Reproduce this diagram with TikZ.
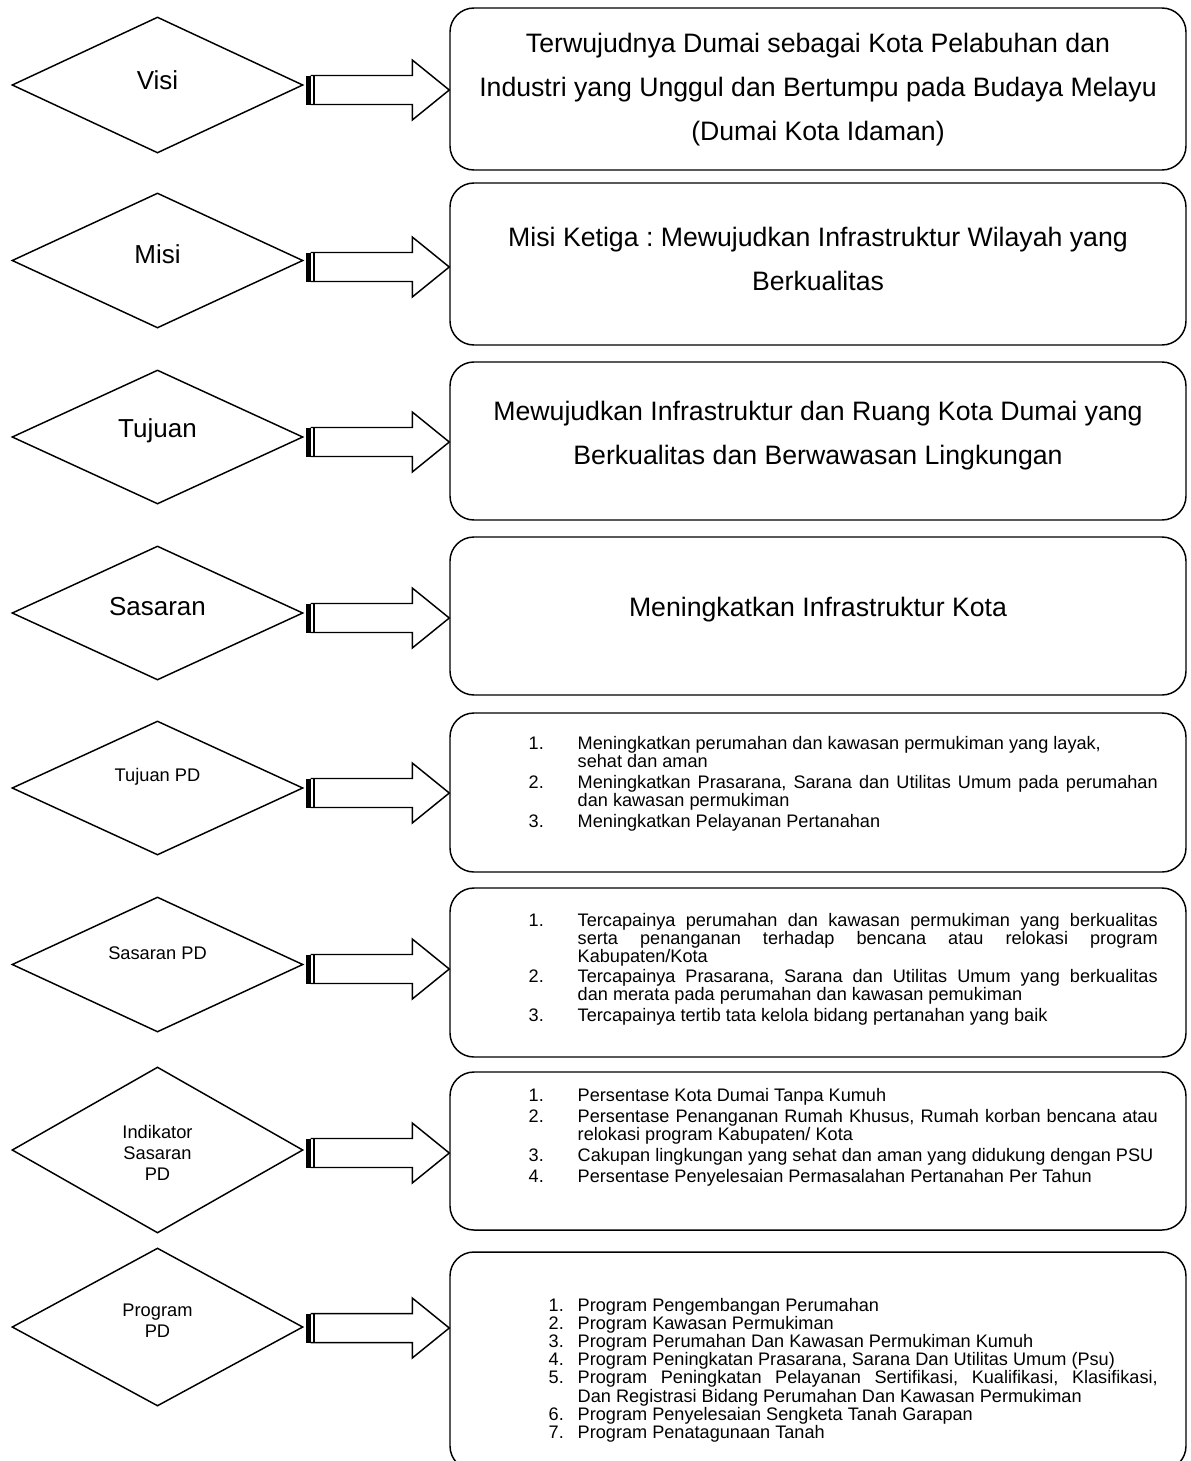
\documentclass[tikz,border=0pt]{standalone}
\usepackage{fontspec}
\setmainfont{Liberation Sans}
\usetikzlibrary{shapes.geometric,calc}

\frenchspacing
\hyphenpenalty=10000
\exhyphenpenalty=10000

\newlength\hangw
% one numbered entry of a list
\newcommand{\li}[2]{\hangindent=\hangw\hangafter=1 \makebox[\hangw][l]{#1}#2\par}

% block arrow with a double bar at its foot
\newcommand{\bararrow}[3]{%
    \coordinate (#1-s) at ($(#1.east)+(2,#3)$);
    \coordinate (#1-t) at (#2.west |- #1-s);
    \fill ($(#1-s)+(0,-14.5)$) rectangle ($(#1-s)+(5,14.5)$);
    \draw[line width=1.5pt] ($(#1-s)+(8.5,-14.5)$) -- ($(#1-s)+(8.5,14.5)$);
    \draw ($(#1-s)+(5,-14.5)$) -- ($(#1-t)+(-37,-14.5)$) -- ($(#1-t)+(-37,-30)$)
        -- (#1-t) -- ($(#1-t)+(-37,30)$) -- ($(#1-t)+(-37,14.5)$) -- ($(#1-s)+(5,14.5)$);
}

\begin{document}
\begin{tikzpicture}
[
    x=0.75pt, y=-0.75pt,
    line width=1.1pt,
    choice/.style={draw, diamond, inner sep=0pt, minimum width=218.25pt},
    panel/.style={draw, rounded corners=18pt, minimum width=552pt},
    bigname/.style={font=\fontsize{19.5pt}{24pt}\selectfont},
    smallname/.style={align=center, font=\fontsize{13.7pt}{15.75pt}\selectfont},
    bigtext/.style={align=center, font=\fontsize{20pt}{33pt}\selectfont},
    itemlist/.style={anchor=base west, inner sep=0pt, align=justify, text width=471.75pt,
        font=\fontsize{13.6pt}{13.5pt}\selectfont}
]
    \useasboundingbox (0,0) rectangle (1190,1461);
    \clip (0,0) rectangle (1190,1461);

    % Visi
    \node[choice, minimum height=102pt] (visi) at (157.5,85) {};
    \node[panel, minimum height=121.5pt] (visi-box) at (818,89) {};
    \node[bigname] (visi-label) at (157.5,80) {Visi};
    \node[bigtext] (visi-text) at (818,90) {Terwujudnya Dumai sebagai Kota Pelabuhan dan\\
        Industri yang Unggul dan Bertumpu pada Budaya Melayu\\(Dumai Kota Idaman)};
    \bararrow{visi}{visi-box}{5}

    % Misi
    \node[choice, minimum height=101.25pt] (misi) at (157.5,260.5) {};
    \node[panel, minimum height=121.5pt] (misi-box) at (818,264) {};
    \node[bigname] (misi-label) at (157.5,254.5) {Misi};
    \node[bigtext] (misi-text) at (818,259) {Misi Ketiga : Mewujudkan Infrastruktur Wilayah yang\\Berkualitas};
    \bararrow{misi}{misi-box}{6.5}

    % Tujuan
    \node[choice, minimum height=100.5pt] (tujuan) at (157.5,437) {};
    \node[panel, minimum height=118.5pt] (tujuan-box) at (818,441) {};
    \node[bigname] (tujuan-label) at (157.5,431) {Tujuan};
    \node[bigtext] (tujuan-text) at (818,435.5) {Mewujudkan Infrastruktur dan Ruang Kota Dumai yang\\
        Berkualitas dan Berwawasan Lingkungan};
    \bararrow{tujuan}{tujuan-box}{5}

    % Sasaran
    \node[choice, minimum height=100.5pt] (sasaran) at (157.5,613) {};
    \node[panel, minimum height=118.5pt] (sasaran-box) at (818,616) {};
    \node[bigname] (sasaran-label) at (157.5,607) {Sasaran};
    \node[bigtext] (sasaran-text) at (818,610) {Meningkatkan Infrastruktur Kota};
    \bararrow{sasaran}{sasaran-box}{5}

    % Tujuan PD
    \node[choice, minimum height=100.5pt] (tujuanpd) at (157.5,788) {};
    \node[panel, minimum height=119.25pt] (tujuanpd-box) at (818,792.5) {};
    \node[smallname] (tujuanpd-label) at (157.5,777) {Tujuan PD};
    \node[itemlist] (tujuanpd-list) at (528,749.5) {\setlength\hangw{36.75pt}\setlength\parskip{2.2pt}%
        \li{1.}{Meningkatkan perumahan dan kawasan permukiman yang layak,\\sehat dan aman}
        \li{2.}{Meningkatkan Prasarana, Sarana dan Utilitas Umum pada perumahan\linebreak dan kawasan permukiman}
        \li{3.}{Meningkatkan Pelayanan Pertanahan}};
    \bararrow{tujuanpd}{tujuanpd-box}{5}

    % Sasaran PD
    \node[choice, minimum height=101.25pt] (sasaranpd) at (157.5,964.5) {};
    \node[panel, minimum height=126.75pt] (sasaranpd-box) at (818,972.5) {};
    \node[smallname] (sasaranpd-label) at (157.5,953) {Sasaran PD};
    \node[itemlist] (sasaranpd-list) at (528,926) {\setlength\hangw{36.75pt}\setlength\parskip{2.2pt}%
        \li{1.}{Tercapainya perumahan dan kawasan permukiman yang berkualitas\linebreak
            serta penanganan terhadap bencana atau relokasi program\linebreak Kabupaten/Kota}
        \li{2.}{Tercapainya Prasarana, Sarana dan Utilitas Umum yang berkualitas\linebreak
            dan merata pada perumahan dan kawasan pemukiman}
        \li{3.}{Tercapainya tertib tata kelola bidang pertanahan yang baik}};
    \bararrow{sasaranpd}{sasaranpd-box}{4.5}

    % Indikator Sasaran PD
    \node[choice, minimum height=124.5pt] (indikator) at (157.5,1150) {};
    \node[panel, minimum height=118.5pt] (indikator-box) at (818,1151) {};
    \node[smallname] (indikator-label) at (157.5,1153) {Indikator\\Sasaran\\PD};
    \node[itemlist] (indikator-list) at (528,1101.5) {\setlength\hangw{36.75pt}\setlength\parskip{2.2pt}%
        \li{1.}{Persentase Kota Dumai Tanpa Kumuh}
        \li{2.}{Persentase Penanganan Rumah Khusus, Rumah korban bencana atau\linebreak
            relokasi program Kabupaten/ Kota}
        \li{3.}{Cakupan lingkungan yang sehat dan aman yang didukung dengan PSU}
        \li{4.}{Persentase Penyelesaian Permasalahan Pertanahan Per Tahun}};
    \bararrow{indikator}{indikator-box}{3}

    % Program PD
    \node[choice, minimum height=118.5pt] (program) at (157.5,1327) {};
    \node[panel, minimum height=163.5pt] (program-box) at (818,1361) {};
    \node[smallname] (program-label) at (157.5,1320.5) {Program\\PD};
    \node[itemlist, text width=456.75pt, font=\fontsize{13.6pt}{12.4pt}\selectfont]
        (program-list) at (548,1311) {\setlength\hangw{21.75pt}%
        \li{1.}{Program Pengembangan Perumahan}
        \li{2.}{Program Kawasan Permukiman}
        \li{3.}{Program Perumahan Dan Kawasan Permukiman Kumuh}
        \li{4.}{Program Peningkatan Prasarana, Sarana Dan Utilitas Umum (Psu)}
        \li{5.}{Program Peningkatan Pelayanan Sertifikasi, Kualifikasi, Klasifikasi,\linebreak
            Dan Registrasi Bidang Perumahan Dan Kawasan Permukiman}
        \li{6.}{Program Penyelesaian Sengketa Tanah Garapan}
        \li{7.}{Program Penatagunaan Tanah}};
    \bararrow{program}{program-box}{1}
\end{tikzpicture}
\end{document}
